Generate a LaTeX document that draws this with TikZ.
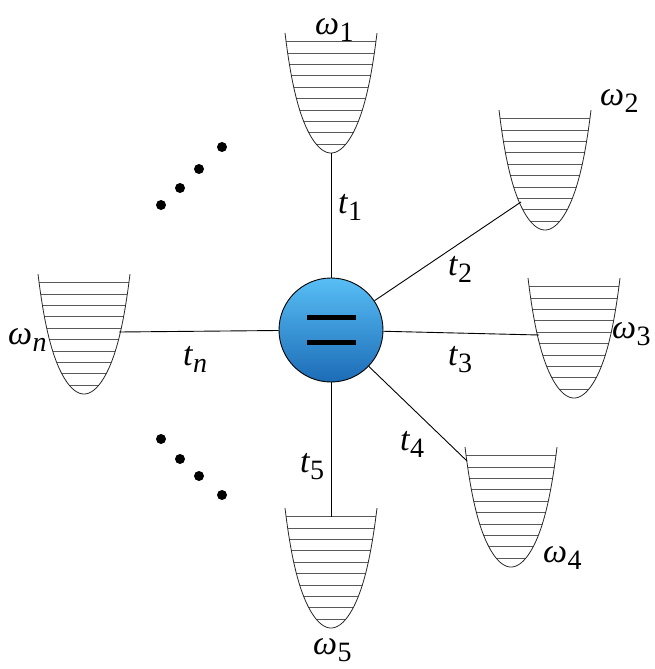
\documentclass[tikz,border=0pt]{standalone}
\usepackage{fontspec}
\setmainfont{Liberation Serif}
\usepackage{tikz}
\tikzset{
  wellline/.style={line width=0.8pt,black!85},
  rung/.style={line width=0.7pt,black!65},
  link/.style={line width=0.9pt,black},
  lbl/.style={inner sep=0pt,anchor=base west},
  dotmark/.style={circle,fill=black,inner sep=0pt,minimum size=10pt},
}
\newcommand{\lab}[2]{{\fontsize{34}{40}\selectfont\itshape #1}\kern0.5pt\raisebox{-7pt}{\fontsize{28}{32}\selectfont #2}}
\newcommand{\wellpath}[2]{plot[domain=-1:1,samples=81,smooth]
  ({#1+46*\x},{#2+120-120*(0.71*\x*\x+0.29*\x*\x*\x*\x*\x*\x)})}
\newcommand{\potwell}[2]{%
  \begin{scope}
    \clip \wellpath{#1}{#2} -- cycle;
    \foreach \k in {0,...,9}{%
      \pgfmathsetmacro\yy{#2+8.5+\k*11.4}%
      \draw[rung] ({#1-50},\yy) -- ({#1+50},\yy);
    }%
  \end{scope}
  \draw[wellline] \wellpath{#1}{#2};
}
\begin{document}
\begin{tikzpicture}[x=1pt,y=-1pt]
\useasboundingbox (0,0) rectangle (655,669);

% wells
\potwell{331}{33}
\potwell{545}{110}
\potwell{574}{278}
\potwell{511}{447}
\potwell{331}{508}
\potwell{84}{274}

% attachment points
\coordinate (p1) at (331,153);
\coordinate (p2) at (521,202);
\coordinate (p3) at (539,335);
\coordinate (p4) at (467,461);
\coordinate (p5) at (331,517);
\coordinate (pn) at (119,332);

% center
\node[circle,draw=black,line width=0.9pt,minimum size=104pt,inner sep=0pt,
      top color={rgb,255:red,88;green,190;blue,245},
      bottom color={rgb,255:red,28;green,108;blue,182}] (c) at (331,330) {};
\draw[line width=5pt] (307,317) -- (356,317);
\draw[line width=5pt] (307,342) -- (356,342);

\draw[link] (c) -- (p1);
\draw[link] (c) -- (p2);
\draw[link] (c) -- (p3);
\draw[link] (c) -- (p4);
\draw[link] (c) -- (p5);
\draw[link] (c) -- (pn);

% labels
\node[lbl] (t1) at (338,213) {\lab{t}{1}};
\node[lbl] (t2) at (448,275) {\lab{t}{2}};
\node[lbl] (t3) at (448,365) {\lab{t}{3}};
\node[lbl] (t4) at (400,450) {\lab{t}{4}};
\node[lbl] (t5) at (300,472) {\lab{t}{5}};
\node[lbl] (tn) at (183,365) {\lab{t}{\itshape n}};
\node[lbl] (w1) at (315,35) {\lab{ω}{1}};
\node[lbl] (w2) at (600,105) {\lab{ω}{2}};
\node[lbl] (w3) at (612,338) {\lab{ω}{3}};
\node[lbl] (w4) at (543,562) {\lab{ω}{4}};
\node[lbl] (w5) at (313,654) {\lab{ω}{5}};
\node[lbl] (wn) at (8,344) {\lab{ω}{\itshape n}};

% dots
\node[dotmark] (d1) at (161,205) {};
\node[dotmark] (d2) at (180,188) {};
\node[dotmark] (d3) at (199,169) {};
\node[dotmark] (d4) at (222,147) {};
\node[dotmark] (e1) at (161,439) {};
\node[dotmark] (e2) at (180,459) {};
\node[dotmark] (e3) at (199,476) {};
\node[dotmark] (e4) at (222,495) {};
\end{tikzpicture}
\end{document}
